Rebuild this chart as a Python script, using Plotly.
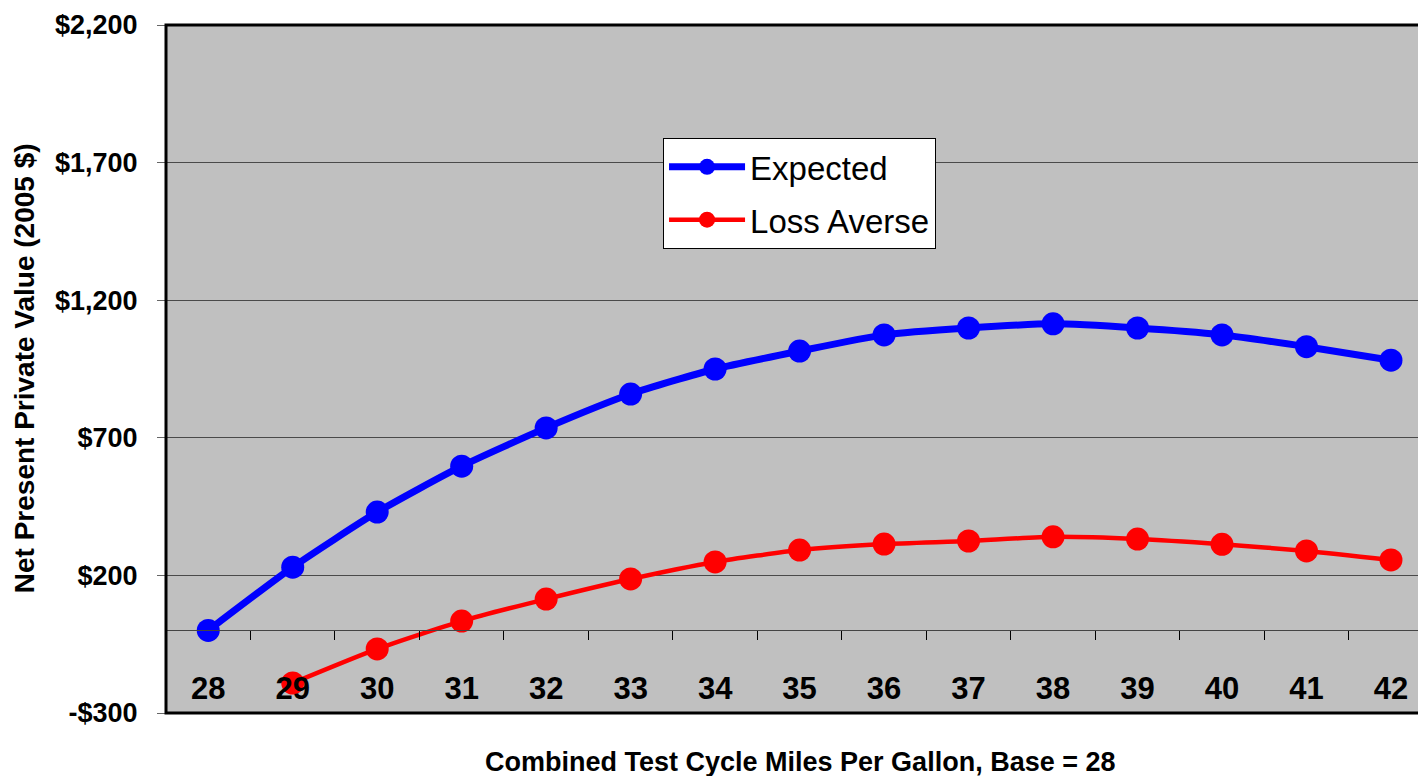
import plotly.graph_objects as go

mpg = ["28", "29", "30", "31", "32", "33", "34", "35", "36", "37", "38", "39", "40", "41", "42"]
expected = [0, 230, 430, 597, 736, 859, 950, 1015, 1074, 1099, 1114, 1099, 1074, 1031, 982]
loss_averse = [None, -191, -67, 34, 114, 187, 249, 292, 314, 325, 340, 332, 313, 289, 256]
y_tickvals = [-300, 200, 700, 1200, 1700, 2200]
y_ticktext = ["-$300", "$200", "$700", "$1,200", "$1,700", "$2,200"]

FONT = "Arial, Liberation Sans, sans-serif"

fig = go.Figure()
fig.add_trace(go.Scatter(
    x=mpg, y=expected, name="Expected", mode="lines+markers",
    line=dict(color="#0000FF", width=7, shape="spline", smoothing=0.6),
    marker=dict(color="#0000FF", size=23),
    legendgroup="a",
))
fig.add_trace(go.Scatter(
    x=mpg, y=loss_averse, name="Loss Averse", mode="lines+markers",
    line=dict(color="#FF0000", width=4.5, shape="spline", smoothing=0.6),
    marker=dict(color="#FF0000", size=23),
    legendgroup="b",
))

fig.update_layout(
    width=1418, height=776,
    margin=dict(l=166, r=0, t=25, b=63),
    paper_bgcolor="white",
    plot_bgcolor="#C0C0C0",
    font=dict(family=FONT, color="black"),
    showlegend=True,
    legend=dict(
        x=0.397, y=0.836, xanchor="left", yanchor="top",
        bgcolor="white", bordercolor="black", borderwidth=1,
        font=dict(family=FONT, size=33, color="black"),
        itemwidth=76, tracegroupgap=7,
    ),
    xaxis=dict(
        type="category", range=[-0.5, 14.32],
        anchor="free", position=0.12,
        showline=True, linecolor="#444444", linewidth=1,
        ticks="outside", tickson="boundaries", ticklen=9, tickcolor="black", tickwidth=1,
        ticklabelstandoff=30,
        tickfont=dict(family=FONT, size=31, color="black", weight="bold"),
        showgrid=False, zeroline=False,
    ),
    yaxis=dict(
        range=[-300, 2200], tickvals=y_tickvals, ticktext=y_ticktext,
        showgrid=True, gridcolor="#4a4a4a", gridwidth=1,
        zeroline=False,
        ticks="outside", ticklen=8, tickcolor="#666666",
        ticklabelstandoff=14,
        tickfont=dict(family=FONT, size=27, color="black", weight="bold"),
    ),
    shapes=[dict(type="rect", xref="paper", yref="paper", x0=0, x1=1.03, y0=0, y1=1,
                 line=dict(color="black", width=3), layer="above")],
    annotations=[
        dict(text="Combined Test Cycle Miles Per Gallon, Base = 28", xref="paper", yref="paper",
             x=0.506, y=-0.0712, xanchor="center", yanchor="middle", showarrow=False,
             font=dict(family=FONT, size=27, color="black", weight="bold")),
        dict(text="Net Present Private Value (2005 $)", xref="paper", yref="paper",
             x=-0.1135, y=0.501, xanchor="center", yanchor="middle", showarrow=False, textangle=-90,
             font=dict(family=FONT, size=28, color="black", weight="bold")),
    ],
)

fig.write_html("out.html")
